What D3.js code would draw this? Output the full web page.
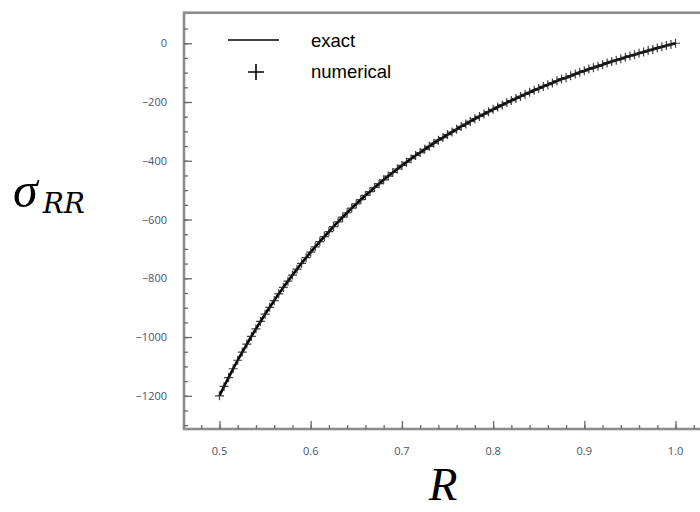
<!DOCTYPE html>
<html>
<head>
<meta charset="utf-8">
<script src="https://cdn.jsdelivr.net/npm/d3@7/dist/d3.min.js"></script>
<style>
  html, body { margin: 0; padding: 0; background: #fff; }
  svg { display: block; }
</style>
</head>
<body>
<svg id="chart" width="700" height="512"></svg>
<script>
// ---- data ----
const rValues = [0.500,0.505,0.510,0.515,0.520,0.525,0.530,0.535,0.540,0.545,
  0.550,0.555,0.560,0.565,0.570,0.575,0.580,0.585,0.590,0.595,
  0.600,0.605,0.610,0.615,0.620,0.625,0.630,0.635,0.640,0.645,
  0.650,0.655,0.660,0.665,0.670,0.675,0.680,0.685,0.690,0.695,
  0.700,0.705,0.710,0.715,0.720,0.725,0.730,0.735,0.740,0.745,
  0.750,0.755,0.760,0.765,0.770,0.775,0.780,0.785,0.790,0.795,
  0.800,0.805,0.810,0.815,0.820,0.825,0.830,0.835,0.840,0.845,
  0.850,0.855,0.860,0.865,0.870,0.875,0.880,0.885,0.890,0.895,
  0.900,0.905,0.910,0.915,0.920,0.925,0.930,0.935,0.940,0.945,
  0.950,0.955,0.960,0.965,0.970,0.975,0.980,0.985,0.990,0.995,1.000];
const sigmaExact = [-1200,-1168,-1138,-1108,-1079,-1051,-1024,-998,-972,-947,
  -922,-899,-876,-853,-831,-810,-789,-769,-749,-730,
  -711,-693,-675,-658,-641,-624,-608,-592,-577,-561,
  -547,-532,-518,-505,-491,-478,-465,-452,-440,-428,
  -416,-405,-393,-382,-372,-361,-351,-340,-330,-321,
  -311,-302,-293,-283,-275,-266,-257,-249,-241,-233,
  -225,-217,-210,-202,-195,-188,-181,-174,-167,-160,
  -154,-147,-141,-135,-128,-122,-117,-111,-105,-99,
  -94,-88,-83,-78,-73,-67,-62,-58,-53,-48,
  -43,-39,-34,-30,-25,-21,-16,-12,-8,-4,0];
const sigmaNumerical = sigmaExact.slice();
const xTicks = [0.5, 0.6, 0.7, 0.8, 0.9, 1.0];
const xTickLabels = ["0.5", "0.6", "0.7", "0.8", "0.9", "1.0"];
const yTicks = [0, -200, -400, -600, -800, -1000, -1200];
const legendLabels = ["exact", "numerical"];

// ---- layout ----
const svg = d3.select("#chart");
const pL = 184, pR = 705, pT = 12.7, pB = 429;
const x = d3.scaleLinear().domain([0.4611, 1.0323]).range([pL, pR]);
const y = d3.scaleLinear().domain([-1313, 104]).range([pB, pT]);

const axisColor = "#8c8c8c";
const tickColor = "#6a6a6a";
const labelColor = "#4a5266";

// frame
svg.append("rect")
  .attr("x", pL).attr("y", pT)
  .attr("width", pR - pL).attr("height", pB - pT)
  .attr("fill", "none").attr("stroke", axisColor).attr("stroke-width", 2.6);

// minor ticks
const xMinor = d3.range(24, 52, 1).map(v => v / 50).filter(v => x(v) > pL + 2 && x(v) < 700);
const yMinor = d3.range(-26, 3, 1).map(v => v * 50).filter(v => y(v) < pB - 2 && y(v) > pT + 2);

const xAxisMinor = d3.axisTop(x).tickValues(xMinor).tickSize(4).tickFormat("");
const gxm = svg.append("g").attr("transform", `translate(0,${pB})`).call(xAxisMinor);
const xAxisMajor = d3.axisTop(x).tickValues(xTicks).tickSize(8).tickFormat("");
const gx = svg.append("g").attr("transform", `translate(0,${pB})`).call(xAxisMajor);

const yAxisMinor = d3.axisRight(y).tickValues(yMinor).tickSize(4).tickFormat("");
const gym = svg.append("g").attr("transform", `translate(${pL},0)`).call(yAxisMinor);
const yAxisMajor = d3.axisRight(y).tickValues(yTicks).tickSize(8).tickFormat("");
const gy = svg.append("g").attr("transform", `translate(${pL},0)`).call(yAxisMajor);

[gxm, gx, gym, gy].forEach(g => {
  g.select(".domain").remove();
  g.selectAll(".tick line").attr("stroke", tickColor).attr("stroke-width", 1.3);
});

// tick labels
svg.append("g").selectAll("text").data(xTicks).join("text")
  .attr("x", d => x(d)).attr("y", 455)
  .attr("text-anchor", "middle")
  .attr("font-family", "'Open Sans', 'DejaVu Sans', sans-serif")
  .attr("font-size", 11).attr("fill", labelColor)
  .text((d, i) => xTickLabels[i]);

svg.append("g").selectAll("text").data(yTicks).join("text")
  .attr("x", 167).attr("y", d => y(d) + 4)
  .attr("text-anchor", "end")
  .attr("font-family", "'Open Sans', 'DejaVu Sans', sans-serif")
  .attr("font-size", 11).attr("fill", labelColor)
  .text(d => d3.format("d")(d));

// clip
svg.append("clipPath").attr("id", "clip").append("rect")
  .attr("x", pL).attr("y", pT).attr("width", pR - pL).attr("height", pB - pT);

const pts = rValues.map((r, i) => ({ r, e: sigmaExact[i], n: sigmaNumerical[i] }));

// exact line
const line = d3.line().x(d => x(d.r)).y(d => y(d.e)).curve(d3.curveMonotoneX);
svg.append("path").datum(pts)
  .attr("d", line).attr("fill", "none")
  .attr("stroke", "#000").attr("stroke-width", 2.6)
  .attr("clip-path", "url(#clip)");

// numerical crosses
const cs = 4.5;
svg.append("g").selectAll("path").data(pts).join("path")
  .attr("d", d => {
    const cx = x(d.r), cy = y(d.n);
    return `M${cx - cs},${cy}H${cx + cs}M${cx},${cy - cs}V${cy + cs}`;
  })
  .attr("stroke", "#222").attr("stroke-width", 1.2).attr("fill", "none")
  .attr("opacity", 0.85);

// legend
const lg = svg.append("g");
lg.append("line").attr("x1", 228).attr("x2", 279).attr("y1", 40).attr("y2", 40)
  .attr("stroke", "#000").attr("stroke-width", 1.6);
lg.append("path").attr("d", "M248,72H264M256,64V80")
  .attr("stroke", "#000").attr("stroke-width", 1.6).attr("fill", "none");
lg.selectAll("text").data(legendLabels).join("text")
  .attr("x", 311).attr("y", (d, i) => i === 0 ? 47 : 78)
  .attr("font-family", "'Liberation Sans', Arial, sans-serif")
  .attr("font-size", 18.5).attr("fill", "#000")
  .text(d => d);

// axis titles
const yt = svg.append("text")
  .attr("x", 13).attr("y", 207)
  .attr("font-family", "'Liberation Serif', 'DejaVu Serif', serif")
  .attr("fill", "#000");
yt.append("tspan").attr("font-style", "italic").attr("font-size", 50).text("σ");
yt.append("tspan").attr("font-style", "italic").attr("font-size", 28)
  .attr("font-family", "'DejaVu Serif', serif")
  .attr("dy", 6).attr("dx", 5).text("RR");

svg.append("text")
  .attr("x", 443).attr("y", 500)
  .attr("text-anchor", "middle")
  .attr("font-family", "'Liberation Serif', 'DejaVu Serif', serif")
  .attr("font-style", "italic").attr("font-size", 47).attr("fill", "#000")
  .text("R");
</script>
</body>
</html>
